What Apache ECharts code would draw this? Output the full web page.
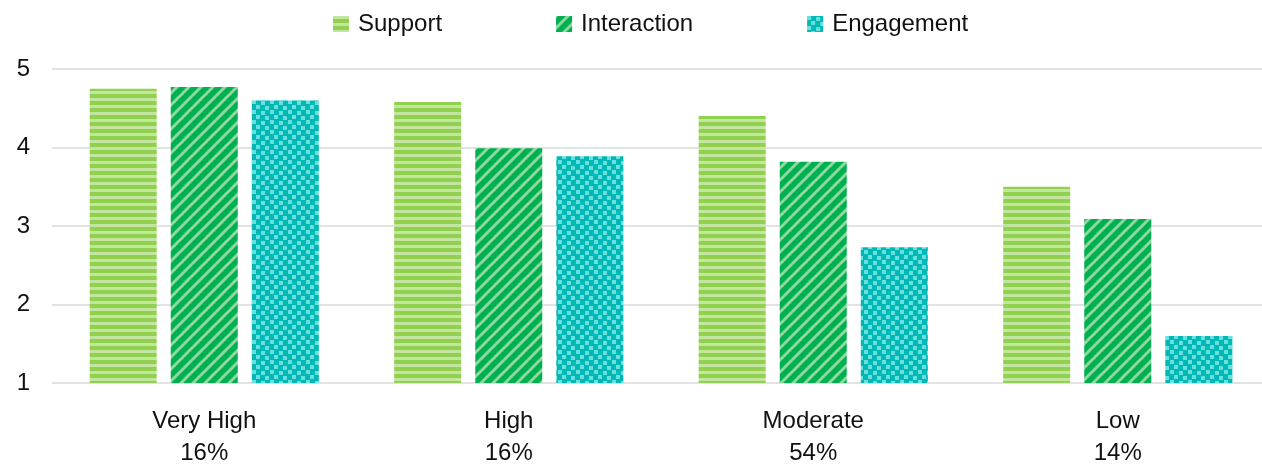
<!DOCTYPE html>
<html>
<head>
<meta charset="utf-8">
<script src="https://cdn.jsdelivr.net/npm/echarts@6/dist/echarts.min.js"></script>
<style>
  html, body { margin: 0; padding: 0; background: #fff; }
  #main { width: 1262px; height: 465px; }
</style>
</head>
<body>
<div id="main"></div>
<script>
var categories = ['Very High\n16%', 'High\n16%', 'Moderate\n54%', 'Low\n14%'];
var support = [4.75, 4.58, 4.40, 3.50];
var interaction = [4.77, 3.99, 3.82, 3.09];
var engagement = [4.60, 3.89, 2.73, 1.60];
var yTicks = [1, 5, 1];

// pattern fills, drawn on small canvases
function hStripes() {
    var c = document.createElement('canvas');
    c.width = 7; c.height = 7;
    var ctx = c.getContext('2d');
    ctx.fillStyle = '#92d050';
    ctx.fillRect(0, 0, 7, 7);
    ctx.fillStyle = '#c2e5a0';
    ctx.fillRect(0, 0, 7, 3);
    return c;
}
function diagStripes() {
    var c = document.createElement('canvas');
    c.width = 12; c.height = 12;
    var ctx = c.getContext('2d');
    ctx.fillStyle = '#00b050';
    ctx.fillRect(0, 0, 12, 12);
    ctx.strokeStyle = '#8ed9a0';
    ctx.lineWidth = 3;
    [-12, 0, 12].forEach(function (o) {
        ctx.beginPath();
        ctx.moveTo(o - 1, 13);
        ctx.lineTo(o + 13, -1);
        ctx.stroke();
    });
    return c;
}
function confetti() {
    var c = document.createElement('canvas');
    c.width = 18; c.height = 10;
    var ctx = c.getContext('2d');
    ctx.fillStyle = '#00b8b5';
    ctx.fillRect(0, 0, 18, 10);
    ctx.fillStyle = '#6ae0dc';
    ctx.fillRect(0, 0, 4, 4);
    ctx.fillRect(9, 1, 4, 4);
    ctx.fillRect(4, 5, 4, 4);
    ctx.fillRect(13, 6, 4, 4);
    return c;
}

var fills = [
    { image: hStripes(), repeat: 'repeat' },
    { image: diagStripes(), repeat: 'repeat' },
    { image: confetti(), repeat: 'repeat' }
];

var font = '"Liberation Sans", Arial, sans-serif';
var chart = echarts.init(document.getElementById('main'));
var option = {
    animation: false,
    textStyle: { fontFamily: font },
    legend: {
        top: 7,
        left: 328,
        itemWidth: 16,
        itemHeight: 16,
        itemGap: 114,
        icon: 'rect',
        textStyle: { fontSize: 24, color: '#111', fontFamily: font, padding: [0, 0, 0, 4] },
        data: ['Support', 'Interaction', 'Engagement']
    },
    grid: {
        left: 52,
        width: 1218,
        top: 69,
        bottom: 82,
        containLabel: false,
        outerBoundsMode: 'none'
    },
    xAxis: {
        type: 'category',
        data: categories,
        axisLine: { show: false },
        axisTick: { show: false },
        axisLabel: {
            fontSize: 24,
            lineHeight: 32,
            color: '#111',
            margin: 22,
            fontFamily: font
        }
    },
    yAxis: {
        type: 'value',
        min: yTicks[0],
        max: yTicks[1],
        interval: yTicks[2],
        axisLine: { show: false },
        axisTick: { show: false },
        axisLabel: { fontSize: 24, color: '#111', margin: 22, fontFamily: font },
        splitLine: { lineStyle: { color: '#d9d9d9', width: 1.5 } }
    },
    series: [
        { name: 'Support', type: 'bar', data: support, barWidth: 67, barGap: '21%', itemStyle: { color: fills[0] } },
        { name: 'Interaction', type: 'bar', data: interaction, barWidth: 67, barGap: '21%', itemStyle: { color: fills[1] } },
        { name: 'Engagement', type: 'bar', data: engagement, barWidth: 67, barGap: '21%', itemStyle: { color: fills[2] } }
    ]
};
chart.setOption(option);
</script>
</body>
</html>
